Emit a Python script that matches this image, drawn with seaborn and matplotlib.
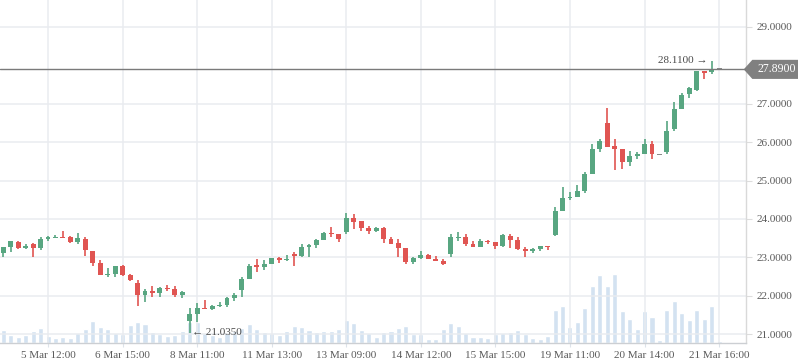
import numpy as np
import pandas as pd
import seaborn as sns
import matplotlib.pyplot as plt
from matplotlib.path import Path

# candle data, one entry per bar
opens = [23.11, 23.27, 23.40, 23.24, 23.35, 23.24, 23.48, 23.51, 23.53, 23.53,
         23.40, 23.48, 23.17, 22.85, 22.54, 22.57, 22.77, 22.54, 22.33, 22.02,
         22.12, 22.07, 22.20, 22.17, 22.02, 21.34, 21.52, 21.68, 21.65, 21.73,
         21.76, 21.94, 22.15, 22.43, 22.80, 22.75, 22.83, 22.98, 22.93, 23.09,
         23.04, 23.27, 23.32, 23.45, 23.63, 23.61, 23.66, 24.03, 23.95, 23.77,
         23.69, 23.77, 23.48, 23.37, 23.24, 22.88, 22.98, 23.06, 22.96, 22.91,
         23.09, 23.51, 23.53, 23.35, 23.27, 23.43, 23.40, 23.30, 23.56, 23.45,
         23.22, 23.17, 23.22, 23.30, 23.58, 24.21, 24.55, 24.58, 24.73, 25.18,
         25.83, 26.49, 25.91, 25.81, 25.47, 25.65, 25.68, 25.96, 25.67, 25.75,
         26.33, 26.85, 27.24, 27.36, 27.85, 27.82, 27.89]
highs = [23.27, 23.43, 23.43, 23.34, 23.37, 23.53, 23.56, 23.58, 23.69, 23.56,
         23.63, 23.53, 23.17, 22.93, 22.72, 22.77, 22.80, 22.57, 22.41, 22.17,
         22.25, 22.23, 22.28, 22.25, 22.12, 21.68, 21.81, 21.89, 21.76, 21.83,
         21.97, 22.07, 22.49, 22.82, 22.96, 22.93, 22.98, 23.01, 23.06, 23.14,
         23.34, 23.34, 23.48, 23.66, 23.79, 23.61, 24.16, 24.13, 23.95, 23.82,
         23.79, 23.79, 23.53, 23.48, 23.24, 23.01, 23.17, 23.09, 23.04, 22.96,
         23.61, 23.66, 23.61, 23.43, 23.48, 23.45, 23.40, 23.61, 23.61, 23.53,
         23.27, 23.24, 23.30, 23.30, 24.31, 24.84, 24.71, 24.89, 25.23, 25.94,
         26.07, 26.88, 26.07, 25.83, 25.78, 25.75, 26.09, 26.04, 25.67, 26.56,
         27.03, 27.27, 27.43, 27.85, 27.85, 28.11, 27.89]
lows = [23.02, 23.15, 23.22, 23.22, 23.02, 23.19, 23.43, 23.51, 23.51, 23.37,
        23.35, 23.04, 22.78, 22.54, 22.50, 22.50, 22.51, 22.38, 21.74, 21.84,
        21.98, 21.98, 22.12, 21.98, 21.94, 21.035, 21.32, 21.65, 21.63, 21.71,
        21.71, 21.87, 21.97, 22.43, 22.63, 22.67, 22.83, 22.85, 22.91, 22.77,
        23.01, 23.01, 23.24, 23.45, 23.53, 23.40, 23.61, 23.74, 23.69, 23.61,
        23.67, 23.37, 23.35, 23.01, 22.83, 22.83, 22.96, 22.96, 22.91, 22.80,
        23.01, 23.43, 23.30, 23.27, 23.27, 23.35, 23.22, 23.27, 23.24, 23.19,
        23.01, 23.12, 23.17, 23.20, 23.56, 24.21, 24.48, 24.58, 24.68, 25.18,
        25.73, 25.88, 25.28, 25.31, 25.39, 25.57, 25.68, 25.57, 25.67, 25.70,
        26.28, 26.85, 27.14, 27.33, 27.64, 27.78, 27.89]
closes = [23.27, 23.43, 23.24, 23.30, 23.24, 23.48, 23.53, 23.53, 23.51, 23.40,
          23.50, 23.19, 22.85, 22.54, 22.57, 22.77, 22.54, 22.41, 22.02, 22.12,
          22.07, 22.20, 22.17, 22.02, 22.10, 21.52, 21.68, 21.65, 21.73, 21.76,
          21.94, 22.02, 22.43, 22.77, 22.75, 22.83, 22.98, 22.93, 22.96, 23.04,
          23.27, 23.32, 23.45, 23.63, 23.61, 23.48, 24.03, 23.92, 23.77, 23.69,
          23.77, 23.48, 23.35, 23.24, 22.88, 22.98, 23.06, 22.96, 22.91, 22.83,
          23.53, 23.53, 23.35, 23.27, 23.43, 23.40, 23.30, 23.58, 23.45, 23.22,
          23.17, 23.22, 23.30, 23.27, 24.21, 24.55, 24.58, 24.73, 25.18, 25.83,
          26.04, 25.88, 25.81, 25.47, 25.65, 25.68, 25.96, 25.68, 25.67, 26.30,
          26.85, 27.22, 27.40, 27.85, 27.80, 27.89, 27.89]
volumes = [1270, 770, 570, 770, 1170, 1470, 700, 470, 570, 470,
           970, 1370, 2170, 1570, 1370, 970, 870, 1770, 2070, 1870,
           1070, 870, 670, 770, 1170, 2070, 2070, 1000, 770, 600,
           930, 1170, 1470, 1870, 1370, 1070, 970, 770, 1170, 1670,
           1570, 1270, 1070, 1170, 1170, 1370, 2270, 1970, 1270, 970,
           570, 1070, 1170, 1470, 1670, 870, 870, 370, 370, 1370,
           1970, 1670, 970, 570, 570, 470, 870, 970, 1070, 1270,
           870, 470, 370, 670, 3270, 3670, 1570, 2070, 3470, 5670,
           6770, 5670, 6870, 3170, 2370, 1370, 3170, 2570, 270, 3270,
           4170, 2970, 2270, 3270, 2370, 3670, 170]

tick_pos = [6, 16, 26, 36, 46, 56, 66, 76, 86, 96]
tick_labels = ["5 Mar 12:00", "6 Mar 15:00", "8 Mar 11:00", "11 Mar 13:00",
               "13 Mar 09:00", "14 Mar 12:00", "15 Mar 15:00", "19 Mar 11:00",
               "20 Mar 14:00", "21 Mar 16:00"]
y_ticks = [21, 22, 23, 24, 25, 26, 27, 29]
last_price = 27.89

GREEN = "#58a681"
RED = "#e05552"
GREY = "#8a8a8a"


def price_tag(x0, y0, width, height, mutation_size):
    # box with a pointed left side, like a price marker on the axis
    px = 0.45 * mutation_size
    py = 0.3 * mutation_size
    x0, y0 = x0 - px, y0 - py
    w, h = width + 2 * px + 20, height + 2 * py
    tip = h * 0.45
    verts = [(x0 - tip, y0 + h / 2), (x0, y0 + h), (x0 + w, y0 + h),
             (x0 + w, y0), (x0, y0), (x0 - tip, y0 + h / 2)]
    codes = [Path.MOVETO] + [Path.LINETO] * 4 + [Path.CLOSEPOLY]
    return Path(verts, codes)


df = pd.DataFrame({"open": opens, "high": highs, "low": lows,
                   "close": closes, "volume": volumes})
df["pos"] = np.arange(len(df))
df["color"] = np.where(df["close"] > df["open"], GREEN,
                       np.where(df["close"] < df["open"], RED, GREY))

sns.set_theme(style="whitegrid")
plt.rcParams["font.family"] = ["Liberation Serif", "DejaVu Serif"]

fig = plt.figure(figsize=(7.98, 3.63), dpi=100)
ax = fig.add_axes([0, 20.3 / 363, 745.7 / 798, 342.7 / 363])
ax_vol = ax.twinx()

# volume bars underneath
sns.barplot(data=df, x="pos", y="volume", native_scale=True, color="#d3e2f1",
            width=0.68, saturation=1, ax=ax_vol, zorder=1)
ax_vol.set_ylim(0, 34270)
ax_vol.set_yticks([])
ax_vol.set_ylabel("")
ax_vol.grid(False)
for s in ax_vol.spines.values():
    s.set_visible(False)

ax.set_zorder(ax_vol.get_zorder() + 1)
ax.patch.set_visible(False)

# candles
ax.vlines(df["pos"], df["low"], df["high"], colors=df["color"], lw=1.2, zorder=3)
body = (df["close"] - df["open"]).abs().clip(lower=0.03)
ax.bar(df["pos"], body, bottom=df[["open", "close"]].min(axis=1),
       width=0.66, color=df["color"], linewidth=0, zorder=4)

ax.set_xlim(-0.443, 99.57)
ax.set_ylim(20.782, 29.694)
ax.set_xticks(tick_pos)
ax.set_xticklabels(tick_labels)
ax.set_yticks(y_ticks)
ax.set_yticklabels([f"{v:.4f}" for v in y_ticks])
ax.yaxis.tick_right()
ax.set_xlabel("")
ax.set_ylabel("")
ax_vol.set_xlabel("")

ax.grid(True, color="#e9ecf0", lw=1.1)
ax.tick_params(axis="y", right=True, left=False, length=4, width=0.8,
               color="#dddddd", pad=4, labelsize=8, labelcolor="#5a5a5a")
ax.tick_params(axis="x", bottom=True, length=3, width=0.8, color="#dde3ea",
               pad=3, labelsize=8, labelcolor="#5a5a5a")
for name in ["left", "top"]:
    ax.spines[name].set_visible(False)
ax.spines["right"].set_color("#d9d9d9")
ax.spines["bottom"].set_color("#cccfd3")
ax.spines["right"].set_linewidth(1)
ax.spines["bottom"].set_linewidth(1)

# last price line and label
ax.axhline(last_price, color="#7a7a7a", lw=1, zorder=5)
ax.text(1.016, last_price, f"{last_price:.4f}", transform=ax.get_yaxis_transform(),
        ha="left", va="center", color="white", fontsize=8.5, clip_on=False,
        bbox=dict(boxstyle=price_tag, fc="#808080", ec="none"))

# high / low markers
i_hi = int(df["high"].idxmax())
i_lo = int(df["low"].idxmin())
ax.annotate(f"{df['high'][i_hi]:.4f} \u2192", xy=(i_hi, df["high"][i_hi]),
            xytext=(-3, 0), textcoords="offset points", ha="right", va="center",
            fontsize=8, color="#4a4a4a", zorder=6)
ax.annotate(f"\u2190 {df['low'][i_lo]:.4f}", xy=(i_lo, df["low"][i_lo]),
            xytext=(2, 0), textcoords="offset points", ha="left", va="center",
            fontsize=8, color="#4a4a4a", zorder=6)

fig.savefig("out.png", dpi=100)
